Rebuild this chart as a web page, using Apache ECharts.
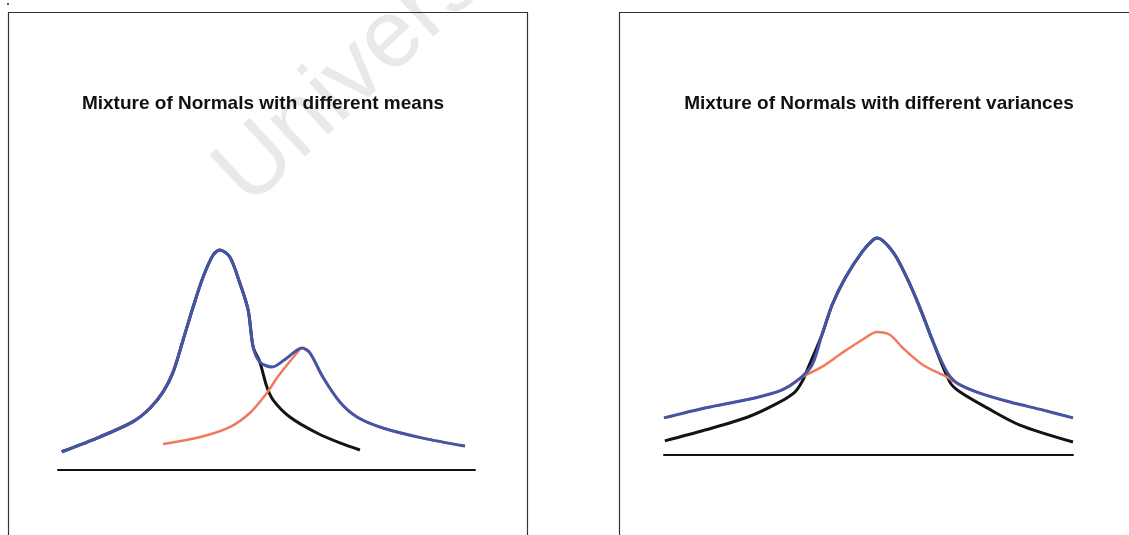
<!DOCTYPE html>
<html>
<head>
<meta charset="utf-8">
<script src="https://cdn.jsdelivr.net/npm/echarts@6/dist/echarts.min.js"></script>
<style>
html,body{margin:0;padding:0;background:#fff;}
#main{width:1129px;height:535px;}
</style>
</head>
<body>
<div id="main"></div>
<script>
// left panel: different means
var meansMixX = [0.09, 1.01, 1.80, 2.21, 2.52, 2.76, 3.0, 3.24, 3.48, 3.72, 3.88, 4.12, 4.36, 4.56, 4.68, 4.84, 5.13, 5.49, 5.85, 6.04, 6.35, 6.76, 7.17, 7.79, 8.75, 9.76]
var meansMixY = [0.083, 0.151, 0.22, 0.282, 0.355, 0.445, 0.591, 0.741, 0.877, 0.977, 1.0, 0.968, 0.85, 0.727, 0.559, 0.491, 0.468, 0.509, 0.555, 0.532, 0.423, 0.309, 0.241, 0.191, 0.145, 0.109]
var meansAX = [0.09, 1.01, 1.80, 2.21, 2.52, 2.76, 3.0, 3.24, 3.48, 3.72, 3.88, 4.12, 4.36, 4.56, 4.68, 4.84, 5.01, 5.16, 5.56, 6.21, 6.76, 7.24]
var meansAY = [0.083, 0.151, 0.22, 0.282, 0.355, 0.445, 0.591, 0.741, 0.877, 0.977, 1.0, 0.968, 0.85, 0.727, 0.559, 0.491, 0.377, 0.318, 0.241, 0.168, 0.123, 0.091]
var meansBX = [2.52, 3.41, 4.12, 4.6, 5.01, 5.25, 5.49, 5.73, 5.85, 6.04, 6.35, 6.76, 7.17, 7.79, 8.75, 9.76]
var meansBY = [0.118, 0.15, 0.195, 0.259, 0.35, 0.418, 0.477, 0.532, 0.555, 0.532, 0.423, 0.309, 0.241, 0.191, 0.145, 0.109]

// right panel: different variances
var varMixX = [0, 1.0, 2.22, 2.89, 3.28, 3.62, 3.86, 4.11, 4.43, 4.84, 5.11, 5.21, 5.6, 5.94, 6.26, 6.58, 6.92, 7.16, 7.65, 8.46, 9.27, 10.0]
var varMixY = [0.171, 0.217, 0.263, 0.30, 0.346, 0.415, 0.553, 0.691, 0.816, 0.935, 0.991, 1.0, 0.935, 0.816, 0.677, 0.521, 0.382, 0.332, 0.29, 0.244, 0.207, 0.171]
var varAX = [0.02, 1.0, 2.05, 2.79, 3.2, 3.37, 3.52, 3.86, 4.11, 4.43, 4.84, 5.11, 5.21, 5.6, 5.94, 6.26, 6.58, 6.99, 7.24, 7.9, 8.7, 10.0]
var varAY = [0.065, 0.115, 0.175, 0.24, 0.29, 0.336, 0.40, 0.553, 0.691, 0.816, 0.935, 0.991, 1.0, 0.935, 0.816, 0.677, 0.521, 0.336, 0.29, 0.217, 0.138, 0.06]
var varBX = [0, 1.0, 2.22, 2.89, 3.37, 3.86, 4.35, 4.84, 5.21, 5.53, 5.84, 6.33, 6.92, 7.16, 7.65, 8.46, 9.27, 10.0]
var varBY = [0.171, 0.217, 0.263, 0.30, 0.359, 0.406, 0.47, 0.53, 0.567, 0.553, 0.493, 0.415, 0.359, 0.332, 0.29, 0.244, 0.207, 0.171]

var titles = ['Mixture of Normals with different means', 'Mixture of Normals with different variances']

function pairs(xs, ys){
    var out = []
    for(var i=0;i<xs.length;i++){
        out.push([xs[i], ys[i]])
    }
    return out
}

function curve(idx, xs, ys, color, width){
    return {
        type: 'line',
        xAxisIndex: idx,
        yAxisIndex: idx,
        data: pairs(xs, ys),
        smooth: 0.3,
        symbol: 'none',
        clip: false,
        silent: true,
        lineStyle: { color: color, width: width }
    }
}

var BLUE = '#4555a6', BLACK = '#141414', ORANGE = '#f07a5c'

var axisX = function(idx){
    return {
        gridIndex: idx, type: 'value', min: 0, max: 10,
        axisLine: { show: true, lineStyle: { color: '#111', width: 2 } },
        axisTick: { show: false }, axisLabel: { show: false }, splitLine: { show: false }
    }
}
var axisY = function(idx){
    return { gridIndex: idx, type: 'value', min: 0, max: 1, show: false }
}

var chart = echarts.init(document.getElementById('main'))
chart.setOption({
    animation: false,
    grid: [
        { left: 58, top: 250, width: 417, height: 220 },
        { left: 664, top: 238, width: 409, height: 217 }
    ],
    xAxis: [axisX(0), axisX(1)],
    yAxis: [axisY(0), axisY(1)],
    graphic: [
        // watermark
        { type: 'text', x: 264, y: 224, rotation: 43 * Math.PI / 180, z: -10,
          style: { text: 'University of Cape Town', font: '96px "Liberation Sans", Arial, sans-serif', fill: '#e9e9e9', textVerticalAlign: 'bottom' } },
        // panel borders
        { type: 'polyline', shape: { points: [[8.5, 535], [8.5, 12.5], [527.5, 12.5], [527.5, 535]] }, style: { stroke: '#333', lineWidth: 1.2, fill: null } },
        { type: 'polyline', shape: { points: [[619.5, 535], [619.5, 12.5], [1129, 12.5]] }, style: { stroke: '#333', lineWidth: 1.2, fill: null } },
        { type: 'circle', shape: { cx: 8, cy: 4, r: 1 }, style: { fill: '#222' } },
        { type: 'text', x: 263, y: 104, style: { text: titles[0], textAlign: 'center', textVerticalAlign: 'middle', font: 'bold 19px "Liberation Sans", Arial, sans-serif', fill: '#111' } },
        { type: 'text', x: 879, y: 104, style: { text: titles[1], textAlign: 'center', textVerticalAlign: 'middle', font: 'bold 19px "Liberation Sans", Arial, sans-serif', fill: '#111' } }
    ],
    series: [
        curve(0, meansAX, meansAY, BLACK, 3),
        curve(0, meansBX, meansBY, ORANGE, 2.5),
        curve(0, meansMixX, meansMixY, BLUE, 3),
        curve(1, varAX, varAY, BLACK, 3),
        curve(1, varBX, varBY, ORANGE, 2.5),
        curve(1, varMixX, varMixY, BLUE, 3)
    ]
})
</script>
</body>
</html>
